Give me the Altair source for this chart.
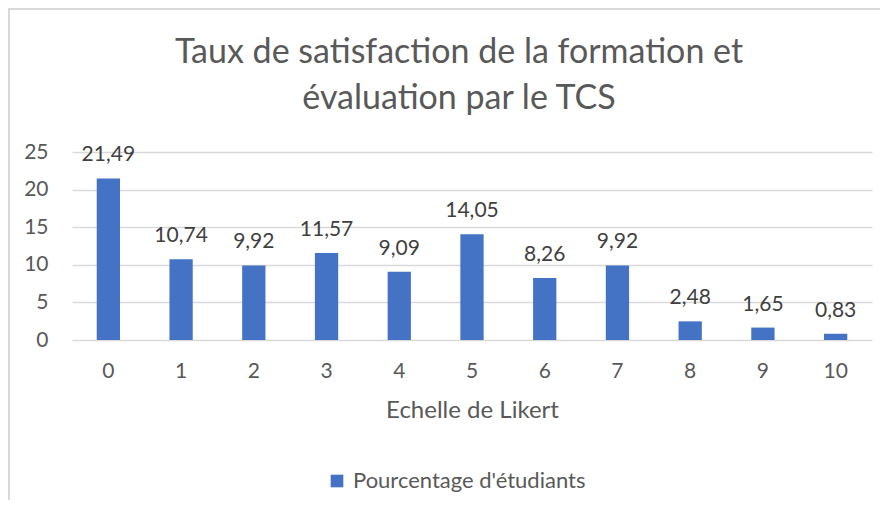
import altair as alt
import pandas as pd

categories = ["0", "1", "2", "3", "4", "5", "6", "7", "8", "9", "10"]
values = [21.49, 10.74, 9.92, 11.57, 9.09, 14.05, 8.26, 9.92, 2.48, 1.65, 0.83]
series_name = "Pourcentage d'étudiants"
title_text = "Taux de satisfaction de la formation et\névaluation par le TCS"
x_title = "Echelle de Likert"
y_ticks = [0, 5, 10, 15, 20, 25]

df = pd.DataFrame({
    "cat": categories,
    "val": values,
    "label": [f"{v:.2f}".replace(".", ",") for v in values],
    "serie": [series_name] * len(values),
})
title_df = pd.DataFrame({"t": [title_text]})

FONT = "Lato"
FS = 21
W, H = 800, 188

x_enc = alt.X("cat:N", sort=categories, title=x_title,
              scale=alt.Scale(paddingInner=0.68, paddingOuter=0.34),
              axis=alt.Axis(labelAngle=0, ticks=False, domain=False, labelPadding=20,
                            labelFontSize=FS, labelColor="#595959", titleFontSize=24,
                            titleColor="#595959", titleFontWeight="normal", titlePadding=17,
                            labelFont=FONT, titleFont=FONT))
y_enc = alt.Y("val:Q", title=None,
              scale=alt.Scale(domain=[0, 25], nice=False),
              axis=alt.Axis(values=y_ticks, ticks=False, domain=False,
                            labelOverlap=False, labelPadding=24, labelFontSize=FS,
                            labelColor="#595959", gridColor="#d9d9d9", gridWidth=1.5,
                            labelFont=FONT))

bars = alt.Chart(df).mark_bar(color="#4472C4").encode(
    x=x_enc, y=y_enc,
    color=alt.Color("serie:N", scale=alt.Scale(range=["#4472C4"]),
                    legend=alt.Legend(title=None, orient="none", legendX=254, legendY=318,
                                      symbolType="square", symbolSize=160,
                                      symbolStrokeWidth=0, labelFontSize=22,
                                      labelColor="#595959", labelFont=FONT,
                                      labelLimit=0, padding=0, labelOffset=5)),
)

labels = alt.Chart(df).mark_text(fontSize=FS, color="#404040", font=FONT,
                                 baseline="alphabetic", dy=-17).encode(
    x=x_enc, y=y_enc, text="label:N")

title = alt.Chart(title_df).mark_text(
    fontSize=34, font=FONT, color="#595959", lineBreak="\n", lineHeight=46,
    baseline="alphabetic", align="center").encode(
    x=alt.value(387), y=alt.value(-89), text="t:N")

border_top = alt.Chart(df).mark_rule(color="#d9d9d9", strokeWidth=2).encode(
    x=alt.value(-63), x2=alt.value(812), y=alt.value(-143))
border_left = alt.Chart(df).mark_rule(color="#d9d9d9", strokeWidth=2).encode(
    x=alt.value(-63), y=alt.value(-144), y2=alt.value(360))

chart = alt.layer(bars, labels, title, border_top, border_left).properties(
    width=W, height=H,
    padding={"left": 64, "top": 144, "right": 8, "bottom": 160},
    autosize=alt.AutoSizeParams(type="none"),
).configure_view(stroke=None)

chart.save("out.html", embed_options={"renderer": "svg", "actions": False})
